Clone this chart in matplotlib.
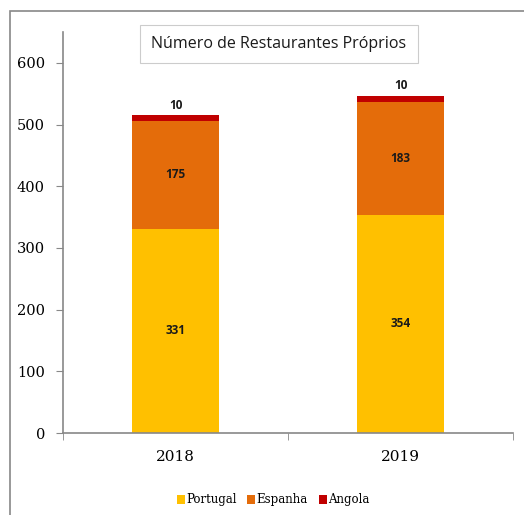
import matplotlib.pyplot as plt
from matplotlib.patches import Rectangle

anos = ['2018', '2019']
portugal = [331, 354]
espanha = [175, 183]
angola = [10, 10]

cores = {'Portugal': '#FFC000', 'Espanha': '#E46C0A', 'Angola': '#C00000'}

fig = plt.figure(figsize=(5.24, 5.15), dpi=100)
ax = fig.add_axes([0.1202, 0.1592, 0.8588, 0.7786])

# moldura exterior do gráfico
fig.patches.append(Rectangle((10 / 524, -0.1), 1.2, 1 - 11 / 515 + 0.1,
                             transform=fig.transFigure, fill=False,
                             edgecolor='#888888', lw=1.2))

x = range(len(anos))
w = 0.39
ax.bar(x, portugal, w, color=cores['Portugal'], label='Portugal')
ax.bar(x, espanha, w, bottom=portugal, color=cores['Espanha'], label='Espanha')
base = [p + e for p, e in zip(portugal, espanha)]
ax.bar(x, angola, w, bottom=base, color=cores['Angola'], label='Angola')

rot = dict(ha='center', fontsize=8.5, fontweight='bold', family='Open Sans', color='#1a1a1a')
for i in x:
    ax.text(i, portugal[i] / 2, str(portugal[i]), va='center', **rot)
    ax.text(i, portugal[i] + espanha[i] / 2, str(espanha[i]), va='center', **rot)
    ax.text(i, base[i] + angola[i] + 5, str(angola[i]), va='bottom', **rot)

ax.set_xlim(-0.5, 1.5)
ax.set_ylim(0, 650)
ax.set_yticks(range(0, 601, 100))
ax.set_xticks(list(x))
ax.set_xticklabels(anos, family='DejaVu Serif', fontsize=11)
ax.set_xticks([-0.5, 0.5, 1.5], minor=True)
ax.tick_params(axis='x', which='major', length=0, pad=12)
ax.tick_params(axis='x', which='minor', length=5, color='#888888')
ax.tick_params(axis='y', length=5, color='#888888', pad=8)
for lab in ax.get_yticklabels():
    lab.set_family('DejaVu Serif')
    lab.set_fontsize(10.5)

for s in ['top', 'right']:
    ax.spines[s].set_visible(False)
for s in ['left', 'bottom']:
    ax.spines[s].set_color('#888888')
    ax.spines[s].set_linewidth(1.2)

fig.text(279 / 524, 1 - 44 / 515, 'Número de Restaurantes Próprios', ha='center', va='center',
         fontsize=11.5, family='Open Sans', color='#1a1a1a',
         bbox=dict(boxstyle='square,pad=0.7', fc='white', ec='#cccccc', lw=0.8))

fig.legend(loc='center', bbox_to_anchor=(273 / 524, 1 - 500 / 515), ncol=3, frameon=False,
           prop={'family': 'DejaVu Serif', 'size': 8.5}, handlelength=0.7, handleheight=0.7,
           handletextpad=0.1, columnspacing=0.9)

fig.savefig('out.png', dpi=100)
